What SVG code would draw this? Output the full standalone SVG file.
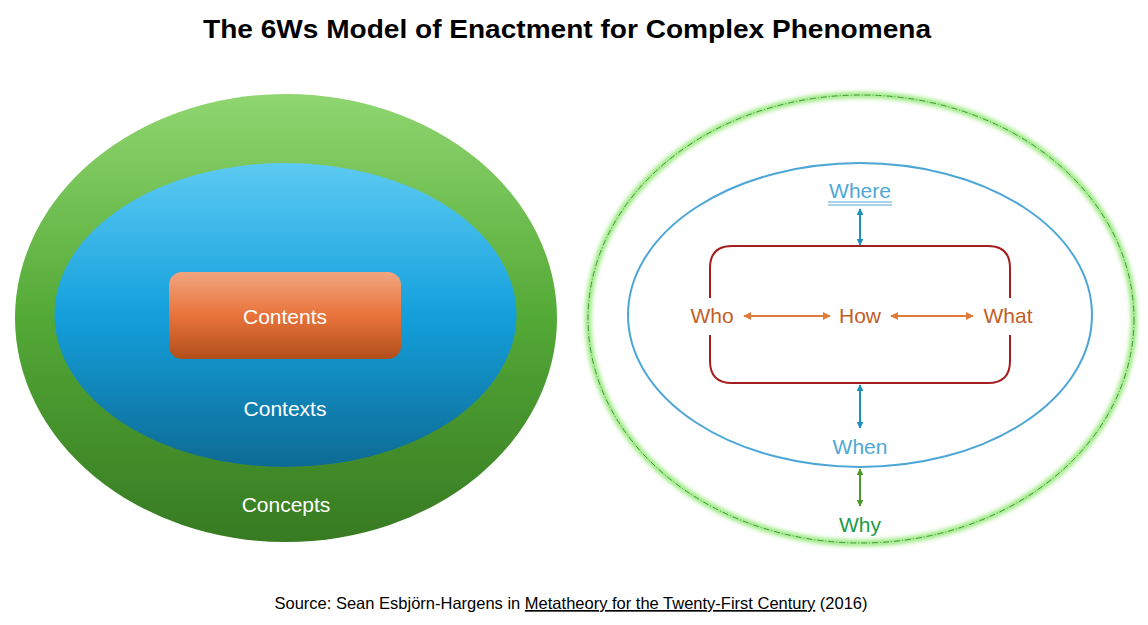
<svg xmlns="http://www.w3.org/2000/svg" width="1148" height="625" viewBox="0 0 1148 625">
<style>
.t{font-family:"Liberation Sans",Arial,sans-serif}
.w{fill:#ffffff;font-size:21px;text-anchor:middle}
.o{fill:#C05E26;font-size:21px;text-anchor:middle}
.b{fill:#4FA7D6;font-size:21px;text-anchor:middle}
.g{fill:#1C9A48;font-size:21px;text-anchor:middle}
</style>
<defs>
<linearGradient id="gOut" x1="0" y1="0" x2="0" y2="1">
<stop offset="0" stop-color="#8FD670"/><stop offset="0.5" stop-color="#53A936"/><stop offset="1" stop-color="#377A22"/>
</linearGradient>
<linearGradient id="gBlue" x1="0" y1="0" x2="0" y2="1">
<stop offset="0" stop-color="#5CCAF2"/><stop offset="0.5" stop-color="#14A0DC"/><stop offset="1" stop-color="#0D6B94"/>
</linearGradient>
<linearGradient id="gOr" x1="0" y1="0" x2="0" y2="1">
<stop offset="0" stop-color="#F2A580"/><stop offset="0.5" stop-color="#E8733A"/><stop offset="1" stop-color="#B24E1C"/>
</linearGradient>
<filter id="glow" x="-10%" y="-10%" width="120%" height="120%">
<feGaussianBlur stdDeviation="2"/>
</filter>
<marker id="aO" viewBox="0 0 10 10" refX="9" refY="5" markerWidth="4" markerHeight="4" orient="auto-start-reverse"><path d="M0,0 L10,5 L0,10 z" fill="#E07B3C"/></marker>
<marker id="aB" viewBox="0 0 10 10" refX="9" refY="5" markerWidth="3.5" markerHeight="3.5" orient="auto-start-reverse"><path d="M0,0 L10,5 L0,10 z" fill="#1D8FC0"/></marker>
<marker id="aG" viewBox="0 0 10 10" refX="9" refY="5" markerWidth="3.5" markerHeight="3.5" orient="auto-start-reverse"><path d="M0,0 L10,5 L0,10 z" fill="#4C9A2A"/></marker>
</defs>
<rect width="1148" height="625" fill="#ffffff"/>
<text class="t" x="567" y="38" font-size="26" font-weight="bold" text-anchor="middle" textLength="728" lengthAdjust="spacingAndGlyphs" fill="#000">The 6Ws Model of Enactment for Complex Phenomena</text>

<g id="concepts">
<ellipse cx="286" cy="318" rx="271" ry="224" fill="url(#gOut)"/>
<text class="t w" x="286" y="512">Concepts</text>
</g>
<g id="contexts">
<ellipse cx="285.5" cy="315" rx="231" ry="152" fill="url(#gBlue)"/>
<text class="t w" x="285" y="416">Contexts</text>
</g>
<g id="contents">
<rect x="169" y="272" width="232" height="87" rx="13" fill="url(#gOr)"/>
<text class="t w" x="285" y="324">Contents</text>
</g>

<g id="why-ring">
<ellipse cx="861" cy="319" rx="273" ry="224" fill="none" stroke="#7EE35C" stroke-width="6" filter="url(#glow)" opacity="0.8"/>
<ellipse cx="861" cy="319" rx="273" ry="224" fill="none" stroke="#3E9A3A" stroke-width="1" stroke-dasharray="6 2 1 2"/>
<text class="t g" x="860" y="532">Why</text>
</g>
<g id="when-where-ring">
<ellipse cx="860" cy="315" rx="232" ry="152" fill="none" stroke="#4CA6D6" stroke-width="2"/>
<text class="t b" x="860" y="198">Where</text>
<line x1="828" y1="202" x2="892" y2="202" stroke="#4FA7D6" stroke-width="1"/>
<line x1="828" y1="205" x2="892" y2="205" stroke="#4FA7D6" stroke-width="1"/>
<text class="t b" x="860" y="454">When</text>
</g>
<g id="core">
<path d="M710,298 V268 Q710,246 732,246 H988 Q1010,246 1010,268 V298 M1010,335 V361 Q1010,383 988,383 H732 Q710,383 710,361 V335" fill="none" stroke="#A31F1F" stroke-width="2"/>
</g>
<g id="who"><text class="t o" x="712" y="323">Who</text></g>
<g id="how"><text class="t o" x="860" y="323">How</text></g>
<g id="what"><text class="t o" x="1008" y="323">What</text></g>

<g id="connectors">
<line x1="744" y1="316" x2="830" y2="316" stroke="#E07B3C" stroke-width="2" marker-start="url(#aO)" marker-end="url(#aO)"/>
<line x1="891" y1="316" x2="973" y2="316" stroke="#E07B3C" stroke-width="2" marker-start="url(#aO)" marker-end="url(#aO)"/>
<line x1="860" y1="209" x2="860" y2="245" stroke="#1D8FC0" stroke-width="2" marker-start="url(#aB)" marker-end="url(#aB)"/>
<line x1="860" y1="385" x2="860" y2="428" stroke="#1D8FC0" stroke-width="2" marker-start="url(#aB)" marker-end="url(#aB)"/>
<line x1="860" y1="469" x2="860" y2="506" stroke="#4C9A2A" stroke-width="2" marker-start="url(#aG)" marker-end="url(#aG)"/>
</g>

<text class="t" x="571" y="609" font-size="16.5" text-anchor="middle" fill="#000">Source: Sean Esbjörn-Hargens in <tspan text-decoration="underline">Metatheory for the Twenty-First Century</tspan> (2016)</text>
</svg>
